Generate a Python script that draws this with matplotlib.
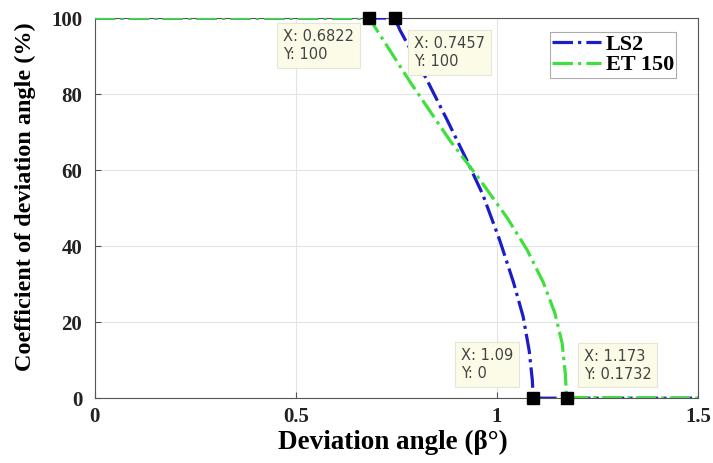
import matplotlib
matplotlib.use("Agg")
import matplotlib.pyplot as plt

# Cumulative deviation-angle curves
ls2_x = [0.0, 0.7457, 0.759, 0.826, 0.876, 0.925, 0.965, 1.007, 1.041, 1.065, 1.080, 1.088, 1.09, 1.5]
ls2_y = [100, 100, 96.8, 83.7, 73.2, 62.6, 53.5, 41.5, 30.5, 21.5, 12.6, 4.7, 0, 0]

et_x = [0.0, 0.6822, 0.784, 0.883, 0.958, 1.025, 1.075, 1.115, 1.144, 1.162, 1.170, 1.173, 1.5]
et_y = [100, 100, 83.2, 67.8, 57.4, 47.5, 39.0, 30.5, 22.4, 14.5, 6.5, 0.1732, 0]

series_names = ["LS2", "ET 150"]

# Data tips: (x, y, text offset in pixels, horizontal / vertical alignment)
tips = [
    (0.6822, 100, (-15, -11), "right", "top"),
    (0.7457, 100, (19, -18), "left", "top"),
    (1.09, 0, (-72, 17), "left", "bottom"),
    (1.173, 0.1732, (17, 16), "left", "bottom"),
]

xticks = [0, 0.5, 1, 1.5]
xtick_labels = ["0", "0.5", "1", "1.5"]
yticks = [0, 20, 40, 60, 80, 100]

plt.rcParams["font.family"] = ["Liberation Serif", "DejaVu Serif"]

fig = plt.figure(figsize=(7.13, 4.63), dpi=100)
ax = fig.add_axes([0.133, 0.140, 0.846, 0.821])

blue = "#1c1cc8"
green = "#3ee03e"
ax.plot(ls2_x, ls2_y, linestyle="-.", color=blue, lw=2.3, label=series_names[0], zorder=3)
ax.plot(et_x, et_y, linestyle="-.", color=green, lw=2.3, label=series_names[1], zorder=4)

for x, y, off, ha, va in tips:
    ax.plot([x], [y], marker="s", ms=8.5, color="black", zorder=6, clip_on=False)
    ax.annotate(f"X: {x:g}\nY: {y:g}", xy=(x, y), xytext=off, textcoords="offset pixels",
                ha=ha, va=va, multialignment="left", fontsize=10.5, color="#444444",
                family=["DejaVu Sans"], linespacing=1.25,
                bbox=dict(boxstyle="square,pad=0.4", fc="#fbfbe8", ec="#e6e6d6", lw=0.8),
                zorder=7)

ax.set_xlim(0, 1.5)
ax.set_ylim(0, 100)
ax.set_xticks(xticks)
ax.set_xticklabels(xtick_labels)
ax.set_yticks(yticks)
ax.grid(True, color="#e3e3e3", lw=0.8)
ax.set_axisbelow(True)
for s in ax.spines.values():
    s.set_color("#555555")
    s.set_linewidth(0.8)
ax.tick_params(direction="in", length=4, color="#555555", labelsize=15)
ax.tick_params(axis="x", pad=6)
ax.tick_params(axis="y", pad=9)
for lab in ax.get_xticklabels() + ax.get_yticklabels():
    lab.set_fontweight("bold")
    lab.set_color("#222222")

ax.set_xlabel("Deviation angle (β°)", fontsize=19.5, fontweight="bold")
ax.set_ylabel("Coefficient of deviation angle (%)", fontsize=17.5, fontweight="bold")
ax.xaxis.set_label_coords(0.494, -0.083)
ax.yaxis.set_label_coords(-0.098, 0.53)

leg = ax.legend(loc="upper right", bbox_to_anchor=(0.9635, 0.963),
                prop={"weight": "bold", "size": 16}, frameon=True, fancybox=False,
                handlelength=2.2, handletextpad=0.2, borderpad=0.1, labelspacing=0.0,
                borderaxespad=0)
leg.get_frame().set_edgecolor("#999999")
leg.get_frame().set_linewidth(0.8)

fig.savefig("out.png", dpi=100)
